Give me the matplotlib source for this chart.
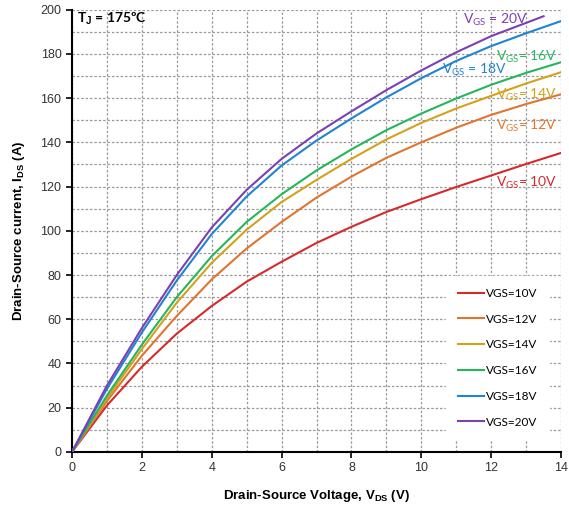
import numpy as np
import matplotlib
matplotlib.use("Agg")
import matplotlib.pyplot as plt

# =================================================================================
# data (VDS in V, IDS in A)
# =================================================================================

vds = [0, 1, 2, 3, 4, 5, 6, 7, 8, 9, 10, 11, 12, 13, 14]
vds_20 = [0, 1, 2, 3, 4, 5, 6, 7, 8, 9, 10, 11, 12, 13, 13.5]

ids_10 = [0, 21, 38.5, 53.5, 66, 77, 86, 94.5, 101.8, 108.5, 114.3, 119.8, 125, 130.2, 135.2]
ids_12 = [0, 23, 43.5, 61.5, 78, 92, 104, 115, 124.5, 133, 140, 146.6, 152.4, 157.3, 161.7]
ids_14 = [0, 24.2, 46.5, 67.5, 85.5, 100.5, 113, 123, 132.5, 141.3, 148.8, 155.3, 161, 166.6, 171.7]
ids_16 = [0, 25.5, 48.5, 70, 88.5, 104, 116.5, 127.3, 136.8, 145.5, 153, 159.8, 166, 171.4, 176.2]
ids_18 = [0, 28.5, 54, 77.5, 98.5, 115.5, 129.5, 140.8, 150.8, 160.3, 169, 176.8, 183.5, 189.3, 194.8]
ids_20 = [0, 30, 56, 80, 101.5, 118.5, 132.5, 144, 154, 163.6, 172.5, 180.7, 188, 194, 197]

legend_labels = ["VGS=10V", "VGS=12V", "VGS=14V", "VGS=16V", "VGS=18V", "VGS=20V"]
curve_labels = [r"V$_{\mathsf{GS}}$= 10V", r"V$_{\mathsf{GS}}$= 12V", r"V$_{\mathsf{GS}}$= 14V",
                r"V$_{\mathsf{GS}}$= 16V", r"V$_{\mathsf{GS}}$ = 18V", r"V$_{\mathsf{GS}}$ = 20V"]
colors = ["#d42a2c", "#e0752f", "#d4a11c", "#25b65c", "#1f84d2", "#7b40b5"]

# =================================================================================
# fonts
# =================================================================================

plt.rcParams["font.family"] = ["Liberation Sans", "DejaVu Sans"]
plt.rcParams["mathtext.fontset"] = "custom"
plt.rcParams["mathtext.rm"] = "Liberation Sans"
plt.rcParams["mathtext.bf"] = "Liberation Sans:bold"
plt.rcParams["mathtext.sf"] = "Lato"

# =================================================================================
# figure
# =================================================================================

fig = plt.figure(figsize=(5.69, 5.05), dpi=100)
ax = fig.add_axes([0.1265, 0.105, 0.8595, 0.876])

series = [ids_10, ids_12, ids_14, ids_16, ids_18, ids_20]
xs = [vds, vds, vds, vds, vds, vds_20]
for x, y, c, lab in zip(xs, series, colors, legend_labels):
    ax.plot(x, y, color=c, lw=1.5, label=lab, zorder=3, solid_joinstyle="round")

ax.set_xlim(0, 14)
ax.set_ylim(0, 200)
ax.set_xticks(np.arange(0, 15, 2))
ax.set_yticks(np.arange(0, 201, 20))
ax.set_xticks(np.arange(0, 15, 1), minor=True)
ax.set_yticks(np.arange(0, 201, 10), minor=True)
ax.grid(which="both", color="#9a9a9a", linestyle=(0, (2, 1.5)), linewidth=0.9)
ax.tick_params(which="major", direction="out", length=4, width=1.2, labelsize=9, colors="black")
ax.tick_params(which="major", labelcolor="#333333")
ax.tick_params(which="minor", length=0)

for s in ["top", "right"]:
    ax.spines[s].set_visible(False)
for s in ["left", "bottom"]:
    ax.spines[s].set_linewidth(1.5)

ax.set_xlabel(r"Drain-Source Voltage, V$_{\mathbf{DS}}$ (V)", fontsize=9.5, fontweight="bold", labelpad=10)
ax.set_ylabel(r"Drain-Source current, I$_{\mathbf{DS}}$ (A)", fontsize=9.5, fontweight="bold", labelpad=10)

ax.text(0.15, 195.8, r"T$_{\mathbf{J}}$ = 175ºC", fontsize=10, fontweight="bold",
        family=["Lato", "DejaVu Sans"], va="center", ha="left")

# curve labels
label_pos = [(13.9, 121.6, "right"), (13.9, 147.4, "right"), (13.9, 161.4, "right"),
             (13.9, 178.5, "right"), (10.6, 172.7, "left"), (11.2, 195.3, "left")]
for (lx, ly, ha), c, txt in zip(label_pos, colors, curve_labels):
    ax.text(lx, ly, txt, color=c, fontsize=10, family=["Lato", "DejaVu Sans"],
            ha=ha, va="center", zorder=4)

leg = ax.legend(loc="lower right", bbox_to_anchor=(0.988, 0.015), frameon=True,
                fancybox=False, edgecolor="white", framealpha=1.0,
                prop={"family": "Lato", "size": 8.5}, handlelength=2.2,
                handletextpad=0.2, labelspacing=1.25, borderpad=1.0)
leg.set_zorder(5)

fig.savefig("out.png", dpi=100)
